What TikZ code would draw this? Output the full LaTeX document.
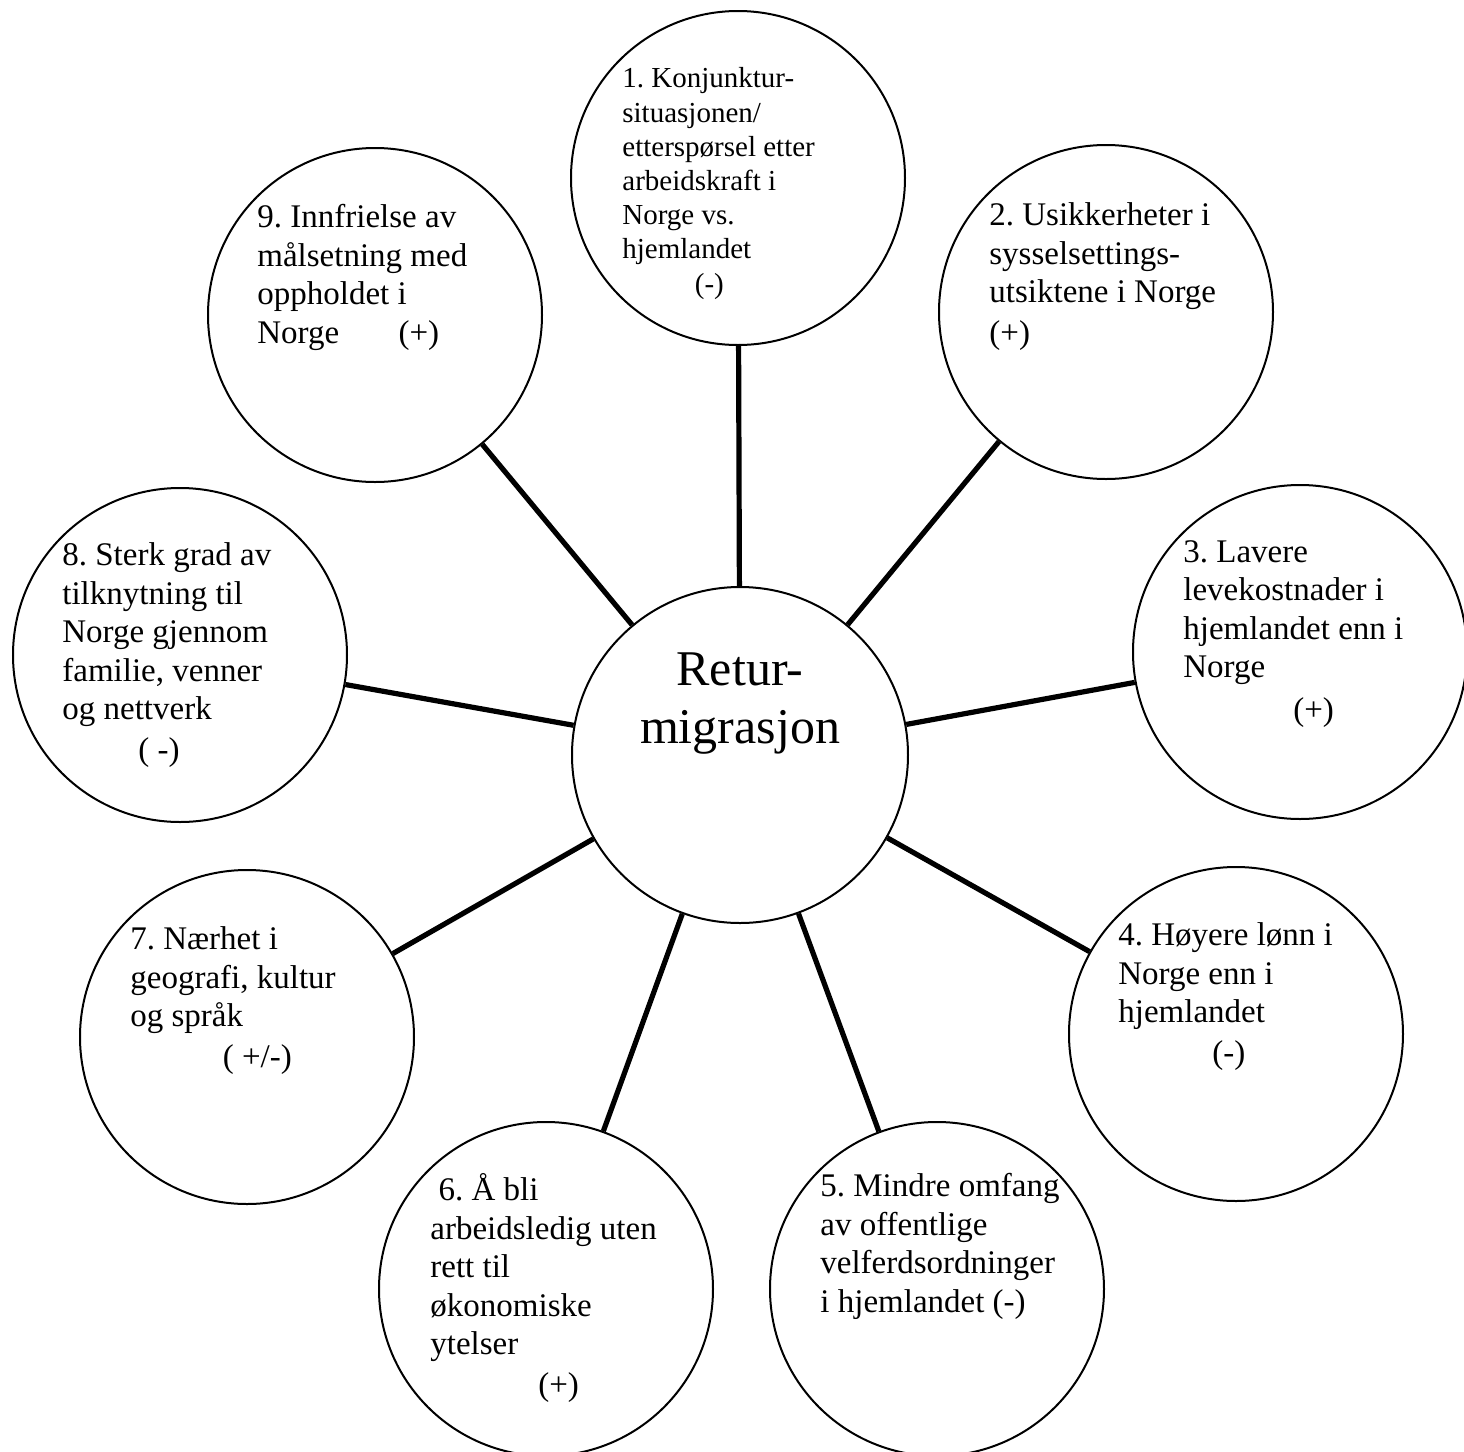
\documentclass[tikz,border=0pt]{standalone}
\usepackage{fontspec}
\setmainfont{Liberation Serif}
\frenchspacing
\usetikzlibrary{calc}

\begin{document}
\begin{tikzpicture}[x=0.5pt,y=-0.5pt,
  factor/.style={circle,draw,line width=1pt,minimum size=167pt,inner sep=0pt},
  ftext/.style={anchor=base west,align=left,inner sep=0pt,font=\fontsize{16.5}{19.25}\selectfont},
  spoke/.style={line width=2.6pt}]
\useasboundingbox (0,0) rectangle (1464,1452);

\node[factor,minimum size=168pt] (cc) at (740,755) {};
\node[factor] (c1) at (738,178) {};
\node[factor] (c2) at (1106,312) {};
\node[factor] (c3) at (1300,652) {};
\node[factor] (c4) at (1236,1034) {};
\node[factor] (c5) at (937,1289) {};
\node[factor] (c6) at (546,1289) {};
\node[factor] (c7) at (247,1037) {};
\node[factor] (c8) at (180,655) {};
\node[factor] (c9) at (375,315) {};

\node[anchor=base,align=center,inner sep=0pt,font=\fontsize{25}{29}\selectfont] (tc) at ($(cc)+(0,-12)$) {Retur-\\migrasjon};

\node[ftext,font=\fontsize{14.5}{17.1}\selectfont] (t1) at ($(c1)+(-116,115)$)
  {1. Konjunktur-\\situasjonen/\\etterspørsel etter\\arbeidskraft i\\Norge vs.\\hjemlandet\\\hspace*{2.5em}(-)};
\node[ftext] (t2) at ($(c2)+(-117,31)$)
  {2. Usikkerheter i\\sysselsettings-\\utsiktene i Norge\\[1pt](+)};
\node[ftext] (t3) at ($(c3)+(-117,68)$)
  {3. Lavere\\levekostnader i\\hjemlandet enn i\\Norge\\[2pt]\hspace*{3.33em}(+)};
\node[ftext] (t4) at ($(c4)+(-118,29)$)
  {4. Høyere lønn i\\Norge enn i\\hjemlandet\\[1pt]\hspace*{2.85em}(-)};
\node[ftext] (t5) at ($(c5)+(-117,23)$)
  {5. Mindre omfang\\av offentlige\\velferdsordninger\\i hjemlandet (-)};
\node[ftext] (t6) at ($(c6)+(-116,106)$)
  {\hspace*{0.25em}6. Å bli\\arbeidsledig uten\\rett til\\økonomiske\\ytelser\\[1pt]\hspace*{3.27em}(+)};
\node[ftext] (t7) at ($(c7)+(-117,30)$)
  {7. Nærhet i\\geografi, kultur\\og språk\\[1pt]\hspace*{2.8em}( +/-)};
\node[ftext] (t8) at ($(c8)+(-118,105)$)
  {8. Sterk grad av\\tilknytning til\\Norge gjennom\\familie, venner\\og nettverk\\[1pt]\hspace*{2.3em}( -)};
\node[ftext] (t9) at ($(c9)+(-118,28)$)
  {9. Innfrielse av\\målsetning med\\oppholdet i\\Norge\hspace{1.8em}(+)};

\draw[spoke] (cc) -- (c1);
\draw[spoke] (cc) -- (c2);
\draw[spoke] (cc) -- (c3);
\draw[spoke] (cc) -- (c4);
\draw[spoke] (cc) -- (c5);
\draw[spoke] (cc) -- (c6);
\draw[spoke] (cc) -- (c7);
\draw[spoke] (cc) -- (c8);
\draw[spoke] (cc) -- (c9);

\end{tikzpicture}
\end{document}
